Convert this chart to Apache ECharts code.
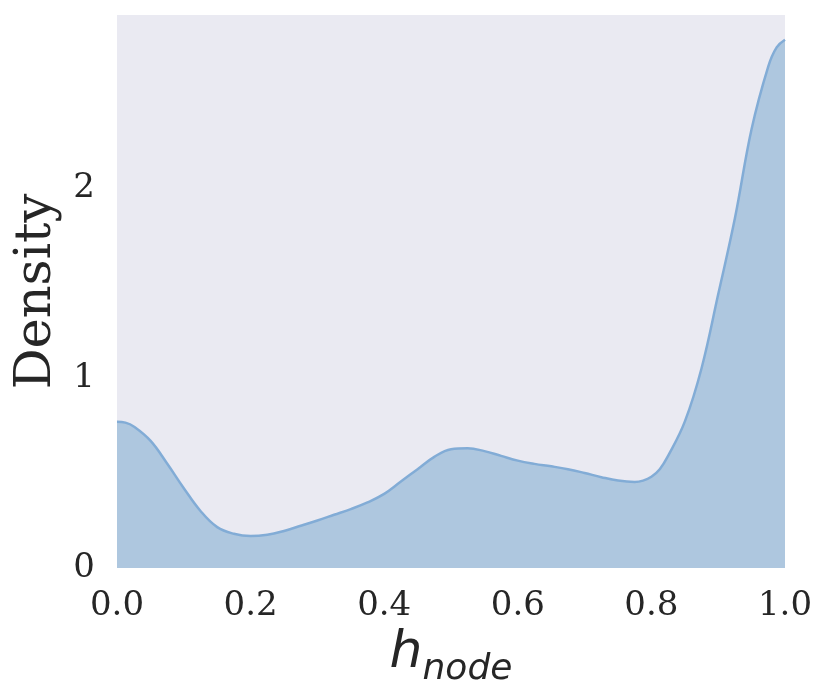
<!DOCTYPE html>
<html>
<head>
<meta charset="utf-8">
<script src="https://cdn.jsdelivr.net/npm/echarts@6/dist/echarts.min.js"></script>
<style>html,body{margin:0;padding:0;background:#fff;}#c{width:830px;height:697px;}</style>
</head>
<body>
<div id="c"></div>
<script>
// KDE density curve of h_node
const xValues = [0.000,0.0125,0.025,0.050,0.075,0.100,0.125,0.150,0.175,0.200,0.225,0.250,0.275,0.300,0.325,0.350,0.375,0.400,0.425,0.450,0.475,0.500,0.525,0.550,0.575,0.600,0.625,0.650,0.675,0.700,0.725,0.750,0.775,0.7875,0.800,0.8125,0.825,0.850,0.875,0.900,0.925,0.950,0.975,0.9875,1.000];
const densityValues = [0.77,0.765,0.745,0.67,0.55,0.42,0.30,0.215,0.18,0.168,0.175,0.195,0.222,0.25,0.28,0.31,0.345,0.39,0.455,0.52,0.585,0.625,0.63,0.615,0.59,0.565,0.548,0.535,0.52,0.50,0.478,0.46,0.453,0.46,0.48,0.52,0.59,0.77,1.05,1.44,1.84,2.31,2.64,2.74,2.78];
const xTicks = [0.0,0.2,0.4,0.6,0.8,1.0];
const yTicks = [0,1,2];

const chart = echarts.init(document.getElementById('c'), null, {renderer:'canvas'});
const data = xValues.map((x,i)=>[x, densityValues[i]]);
const tickFont = {fontFamily:'DejaVu Serif', fontSize:34, color:'#262626'};
chart.setOption({
  animation:false,
  grid:{left:117,right:45,top:15,bottom:129,show:true,backgroundColor:'#eaeaf2',borderWidth:0},
  xAxis:{
    type:'value', min:0, max:1, interval:0.2,
    axisLine:{show:false}, axisTick:{show:false}, splitLine:{show:false},
    axisLabel:Object.assign({margin:21, formatter:v=>{const t=xTicks.find(k=>Math.abs(k-v)<1e-9);return t===undefined?'':t.toFixed(1);}}, tickFont),
    name:'{h|h}{s|node}', nameLocation:'middle', nameGap:56,
    nameTextStyle:{rich:{
      h:{fontFamily:'DejaVu Sans',fontStyle:'italic',fontSize:52,color:'#262626',verticalAlign:'bottom',padding:[0,0,8,0]},
      s:{fontFamily:'DejaVu Sans',fontStyle:'italic',fontSize:36,color:'#262626',verticalAlign:'bottom'}
    }}
  },
  yAxis:{
    type:'value', min:0, max:2.91, interval:1,
    axisLine:{show:false}, axisTick:{show:false}, splitLine:{show:false},
    axisLabel:Object.assign({margin:22, formatter:v=>yTicks.includes(v)?String(v):''}, tickFont),
    name:'Density', nameLocation:'middle', nameGap:53,
    nameTextStyle:{fontFamily:'DejaVu Serif',fontSize:51,color:'#262626'}
  },
  series:[{
    type:'line', data:data, smooth:0.4, symbol:'none', clip:true,
    lineStyle:{color:'#82acd6',width:2.5},
    areaStyle:{color:'#aec7df',opacity:1}
  }]
});
</script>
</body>
</html>
